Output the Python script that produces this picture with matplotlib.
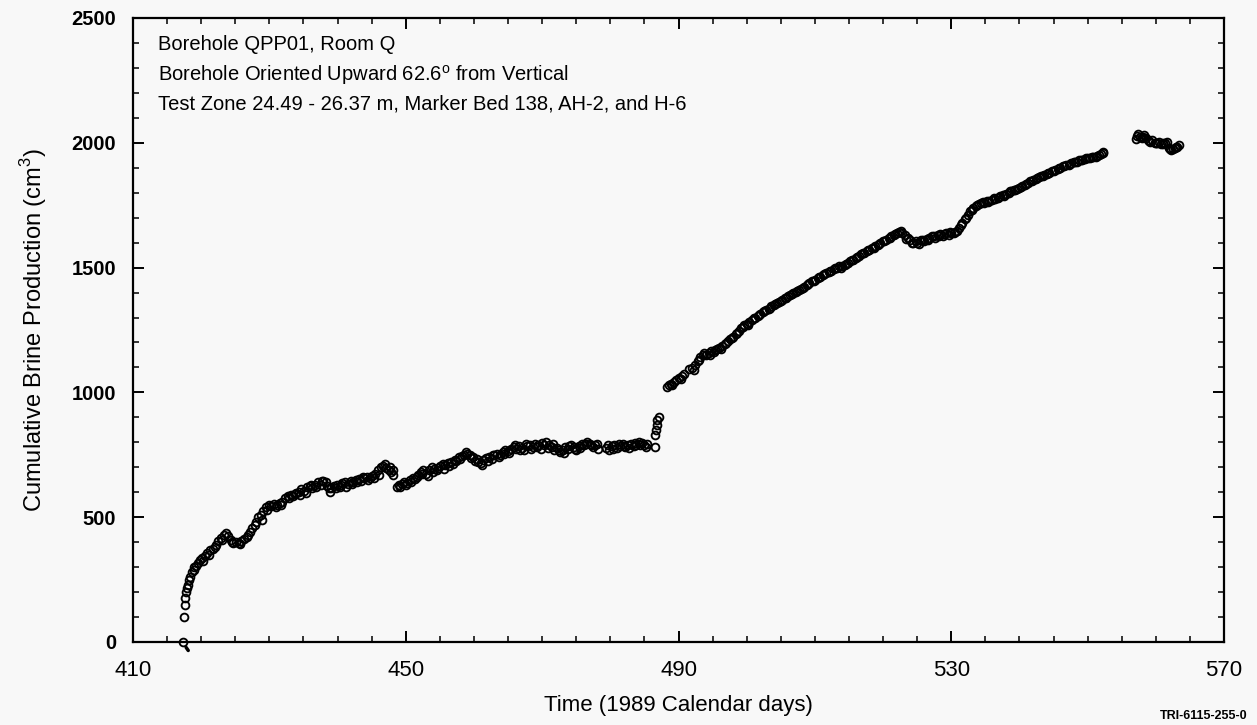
import matplotlib
matplotlib.use("Agg")
import matplotlib.pyplot as plt
from matplotlib.ticker import MultipleLocator

plt.rcParams['font.family'] = ['Liberation Sans', 'DejaVu Sans']
plt.rcParams['mathtext.fontset'] = 'custom'
plt.rcParams['mathtext.rm'] = 'Liberation Sans'

# ---- data ----
days_seg1 = [417.4, 417.5, 417.6, 417.7, 417.8, 417.9, 418.0, 418.2, 418.4, 418.6, 418.9, 419.2, 419.5, 419.8,
             420.1, 420.5, 420.9, 421.3, 421.7, 422.1, 422.5, 422.9, 423.3, 423.6, 424.0, 424.3, 424.7,
             425.1, 425.5, 425.9, 426.3, 426.7, 427.1, 427.5, 427.9, 428.3, 428.7, 429.1, 429.5, 429.9,
             430.3, 430.7, 431.1, 431.5, 431.9, 432.3, 432.7, 433.1, 433.5, 433.9, 434.3, 434.7, 435.1,
             435.5, 435.9, 436.3, 436.7, 437.1, 437.5, 437.9, 438.3, 438.7, 439.1, 439.5, 439.9, 440.3,
             440.7, 441.1, 441.5, 441.9, 442.3, 442.7, 443.1, 443.5, 443.9, 444.3, 444.7, 445.1, 445.5,
             445.9, 446.3, 446.7, 447.1, 447.5, 447.9, 448.2]
vals_seg1 = [0, 100, 150, 175, 200, 215, 230, 250, 262, 280, 300, 305, 318, 330,
             336, 345, 355, 368, 372, 390, 405, 418, 430, 436, 425, 410, 396,
             400, 398, 405, 412, 420, 440, 455, 470, 500, 510, 525, 540, 548,
             545, 552, 548, 556, 562, 578, 585, 590, 585, 598, 600, 612, 605,
             620, 625, 618, 630, 640, 628, 645, 640, 615, 615, 625, 630, 620,
             635, 640, 632, 645, 640, 648, 652, 645, 655, 660, 658, 665, 672,
             690, 700, 705, 698, 690, 680, 670]

days_dash = [417.8, 418.1]
vals_dash = [-22, -34]

days_seg2 = [448.7, 449.0, 449.4, 449.8, 450.2, 450.6, 451.0, 451.4, 451.8, 452.2, 452.6, 453.0, 453.4,
             453.8, 454.2, 454.6, 455.0, 455.4, 455.8, 456.2, 456.6, 457.0, 457.4, 457.8, 458.2, 458.6,
             459.0, 459.4, 459.8, 460.2, 460.6, 461.0, 461.4, 461.8, 462.2, 462.6, 463.0, 463.4, 463.8,
             464.2, 464.6, 465.0, 465.4, 465.8, 466.2, 466.6, 467.0, 467.4, 467.8, 468.2, 468.6, 469.0,
             469.4, 469.8, 470.2, 470.6, 471.0, 471.4, 471.8, 472.2, 472.6, 473.0, 473.4, 473.8, 474.2,
             474.6, 475.0, 475.4, 475.8, 476.2, 476.6, 477.0, 477.4, 477.8, 478.2]
vals_seg2 = [620, 628, 632, 640, 636, 648, 655, 652, 668, 680, 688, 675, 690,
             700, 695, 688, 705, 712, 708, 716, 720, 712, 725, 740, 745, 750,
             755, 748, 740, 725, 720, 718, 728, 738, 742, 735, 750, 755, 748,
             760, 770, 765, 775, 780, 772, 785, 778, 770, 785, 790, 780, 795,
             788, 775, 790, 800, 790, 782, 770, 778, 760, 768, 780, 775, 790,
             782, 770, 785, 795, 788, 800, 792, 780, 788, 775]

days_seg3 = [479.4, 479.8, 480.2, 480.6, 481.0, 481.4, 481.8, 482.2, 482.6, 483.0, 483.4, 483.8, 484.2,
             484.6, 485.0, 485.4, 486.5, 486.6, 486.7, 486.8, 486.9, 487.1]
vals_seg3 = [776, 768, 785, 790, 778, 786, 792, 780, 788, 795, 785, 790, 800,
             796, 788, 792, 780, 828, 850, 870, 888, 900]

days_seg4 = [488.3, 488.6, 488.9, 489.3, 489.7, 490.1, 490.5, 490.8, 491.6, 492.0, 492.4, 492.8, 493.2,
             493.6, 494.0, 494.4, 494.8, 495.2, 495.6, 496.0, 496.4, 496.8, 497.2, 497.6, 498.0, 498.4,
             498.8, 499.2, 499.6, 500.0, 500.4, 500.8, 501.2, 501.6, 502.0, 502.4, 502.8, 503.2, 503.6,
             504.0, 504.4, 504.8, 505.2, 505.6, 506.0, 506.4, 506.8, 507.2, 507.6, 508.0, 508.4, 508.8,
             509.2, 509.6, 510.0, 510.4, 510.8, 511.2, 511.6, 512.0, 512.4, 512.8, 513.2, 513.6, 514.0,
             514.4, 514.8, 515.2, 515.6, 516.0, 516.4, 516.8, 517.2, 517.6, 518.0, 518.4, 518.8, 519.2,
             519.6, 520.0, 520.4, 520.8, 521.2, 521.6, 522.0, 522.4, 522.8, 523.2, 523.6, 524.0, 524.4,
             524.8, 525.2, 525.6, 526.0, 526.4, 526.8, 527.2, 527.6, 528.0, 528.4, 528.8, 529.2, 529.6,
             530.0, 530.4, 530.8, 531.2, 531.6, 532.0, 532.4, 532.8, 533.2, 533.6, 534.0, 534.4, 534.8,
             535.2, 535.6, 536.0, 536.4, 536.8, 537.2, 537.6, 538.0, 538.4, 538.8, 539.2, 539.6, 540.0,
             540.4, 540.8, 541.2, 541.6, 542.0, 542.4, 542.8, 543.2, 543.6, 544.0, 544.4, 544.8, 545.2,
             545.6, 546.0, 546.4, 546.8, 547.2, 547.6, 548.0, 548.4, 548.8, 549.2, 549.6, 550.0, 550.4,
             550.8, 551.2, 551.6, 552.0, 552.3]
vals_seg4 = [1020, 1030, 1035, 1042, 1050, 1058, 1065, 1072, 1092, 1098, 1110, 1125, 1140,
             1150, 1148, 1158, 1165, 1160, 1172, 1178, 1185, 1195, 1205, 1212, 1222, 1232,
             1245, 1258, 1268, 1275, 1282, 1292, 1300, 1305, 1316, 1322, 1330, 1335, 1345,
             1350, 1358, 1362, 1370, 1378, 1385, 1390, 1398, 1402, 1410, 1415, 1422, 1430,
             1438, 1445, 1452, 1458, 1462, 1470, 1478, 1482, 1488, 1495, 1498, 1505, 1505,
             1512, 1520, 1525, 1530, 1540, 1548, 1555, 1560, 1565, 1572, 1578, 1585, 1590,
             1598, 1605, 1610, 1618, 1625, 1632, 1638, 1642, 1640, 1630, 1620, 1612, 1600,
             1608, 1595, 1610, 1605, 1615, 1618, 1625, 1620, 1630, 1635, 1628, 1638, 1630,
             1640, 1638, 1645, 1660, 1680, 1695, 1710, 1725, 1738, 1748, 1755, 1760, 1758,
             1765, 1768, 1772, 1775, 1780, 1785, 1790, 1795, 1800, 1805, 1810, 1815, 1820,
             1828, 1832, 1838, 1845, 1850, 1855, 1862, 1868, 1872, 1875, 1880, 1885, 1890,
             1895, 1900, 1905, 1910, 1912, 1918, 1922, 1925, 1930, 1932, 1935, 1938, 1940,
             1942, 1945, 1950, 1955, 1962]

days_seg5 = [557.1, 557.4, 557.7, 558.0, 558.3, 558.6, 558.9, 559.2, 559.5, 559.8, 560.1, 560.4, 560.7,
             561.0, 561.3, 561.6, 561.9, 562.2, 562.5, 562.8, 563.1, 563.4]
vals_seg5 = [2015, 2036, 2025, 2020, 2030, 2018, 2010, 2005, 2012, 2000, 1998, 2002, 1995,
             2000, 1998, 2002, 1978, 1972, 1975, 1980, 1985, 1990]

# additional readings interleaved with the main ones (scatter about the trend)
days_extra = [419.0, 420.3, 421.1, 422.0, 423.0, 424.5, 425.7, 426.9, 428.0, 428.9, 429.7, 430.9, 431.7,
              432.9, 433.7, 434.5, 435.3, 436.1, 436.9, 437.7, 438.5, 438.9, 439.7, 440.5, 441.3, 442.1,
              442.9, 443.7, 444.5, 445.3, 446.1, 446.9, 447.7, 448.1,
              449.2, 450.0, 450.8, 451.6, 452.4, 453.2, 454.0, 454.8, 455.6, 456.4, 457.2, 458.0, 458.8,
              459.6, 460.4, 461.2, 462.0, 462.8, 463.6, 464.4, 465.2, 466.0, 466.8, 467.6, 468.4, 469.2,
              470.0, 470.8, 471.6, 472.4, 473.2, 474.0, 474.8, 475.6, 476.4, 477.2, 478.0,
              479.6, 480.4, 481.2, 482.0, 482.8, 483.6, 484.4, 485.2,
              489.1, 490.3, 492.2, 493.0, 493.8, 494.6, 495.4, 496.2, 497.0, 497.8, 498.6, 499.4, 500.2,
              501.0, 501.8, 502.6, 503.4, 504.2, 505.0, 505.8, 506.6, 507.4, 508.2, 509.0, 509.8, 510.6,
              511.4, 512.2, 513.0, 513.8, 514.6, 515.4, 516.2, 517.0, 517.8, 518.6, 519.4, 520.2, 521.0,
              521.8, 522.6, 523.4, 524.2, 525.0, 525.8, 526.6, 527.4, 528.2, 529.0, 529.8, 530.6, 531.4,
              532.2, 533.0, 533.8, 534.6, 535.4, 536.2, 537.0, 537.8, 538.6, 539.4, 540.2, 541.0, 541.8,
              542.6, 543.4, 544.2, 545.0, 545.8, 546.6, 547.4, 548.2, 549.0, 549.8, 550.6, 551.4, 552.2,
              557.3, 558.1, 559.0, 560.0, 561.1, 562.0, 563.0]
vals_extra = [290, 325, 350, 380, 410, 402, 392, 428, 480, 490, 530, 540, 548,
              575, 592, 590, 598, 630, 620, 645, 625, 600, 615, 628, 622, 632,
              640, 662, 648, 655, 668, 712, 700, 688,
              622, 630, 642, 660, 672, 665, 680, 698, 695, 705, 730, 732, 760,
              738, 735, 710, 725, 748, 740, 752, 758, 788, 770, 792, 772, 780,
              798, 778, 795, 770, 758, 785, 772, 778, 795, 788, 795,
              790, 772, 792, 785, 778, 798, 788, 780,
              1028, 1052, 1090, 1130, 1158, 1150, 1168, 1172, 1198, 1218, 1236, 1262, 1270,
              1298, 1310, 1325, 1340, 1355, 1368, 1380, 1396, 1405, 1420, 1434, 1448, 1462,
              1474, 1486, 1500, 1500, 1515, 1530, 1542, 1560, 1570, 1580, 1595, 1605, 1620,
              1636, 1645, 1615, 1598, 1600, 1612, 1610, 1628, 1625, 1635, 1642, 1642, 1670,
              1700, 1732, 1752, 1762, 1762, 1778, 1782, 1788, 1805, 1812, 1822, 1835, 1848,
              1858, 1866, 1878, 1888, 1898, 1908, 1916, 1924, 1930, 1938, 1944, 1948, 1958,
              2028, 2022, 2008, 2000, 1996, 1975, 1982]

x_ticks = [410, 450, 490, 530, 570]
y_ticks = [0, 500, 1000, 1500, 2000, 2500]
annotation_lines = ["Borehole QPP01, Room Q",
                    "Borehole Oriented Upward 62.6$^\\mathregular{o}$ from Vertical",
                    "Test Zone 24.49 - 26.37 m, Marker Bed 138, AH-2, and H-6"]

# ---- figure ----
bg = '#f8f8f8'
fig = plt.figure(figsize=(12.57, 7.25), dpi=100, facecolor=bg)
ax = fig.add_axes([0.1058, 0.1145, 0.8680, 0.8607], facecolor=bg)

mk = dict(marker='o', linestyle='none', markersize=5.6, markerfacecolor='none',
          markeredgecolor='black', markeredgewidth=1.35)
for d, v in [(days_seg1, vals_seg1), (days_seg2, vals_seg2), (days_seg3, vals_seg3),
             (days_seg4, vals_seg4), (days_seg5, vals_seg5), (days_extra, vals_extra)]:
    ax.plot(d, v, clip_on=False, **mk)
ax.plot(days_dash, vals_dash, color='black', linewidth=2.5, solid_capstyle='round', clip_on=False)

ax.set_xlim(410, 570)
ax.set_ylim(0, 2500)
ax.set_xticks(x_ticks)
ax.set_yticks(y_ticks)
ax.xaxis.set_minor_locator(MultipleLocator(5))
ax.yaxis.set_minor_locator(MultipleLocator(100))
ax.tick_params(which='both', direction='in', top=True, right=True, color='black')
ax.tick_params(which='major', length=8, width=1.4)
ax.tick_params(which='minor', length=4.5, width=1.1)
ax.tick_params(axis='x', which='major', labelsize=16, pad=13)
ax.tick_params(axis='y', which='major', labelsize=14.5, pad=12)
for lab in ax.get_yticklabels():
    lab.set_fontweight('bold')
for s in ax.spines.values():
    s.set_linewidth(1.6)

ax.set_xlabel("Time (1989 Calendar days)", fontsize=16, labelpad=10)
ax.set_ylabel("Cumulative Brine Production (cm$^\\mathregular{3}$)", fontsize=17, labelpad=16)

for i, t in enumerate(annotation_lines):
    fig.text(158 / 1257, 1 - (45 + 29.5 * i) / 725, t, fontsize=14.5, va='center', ha='left')

fig.text(1160 / 1257, 1 - 716 / 725, "TRI-6115-255-0", fontsize=9, fontweight='bold',
         va='center', ha='left')

fig.savefig("out.png", dpi=100, facecolor=bg)
